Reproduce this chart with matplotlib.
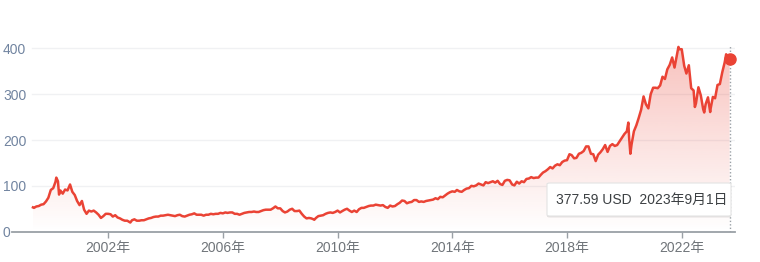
import numpy as np
import pandas as pd
import matplotlib
matplotlib.use("Agg")
import matplotlib.pyplot as plt
from matplotlib.patches import Polygon, FancyBboxPatch

# month-end closes (USD), May 1999 .. Aug 2023
monthly_close = [
    52, 55, 56, 59, 60, 66, 74, 91,                           # 1999 (May-Dec)
    95, 109, 110, 90, 83, 92, 90, 103, 87, 80, 67, 58,        # 2000
    67, 48, 39, 46, 44, 46, 42, 37, 30, 34, 39, 39,           # 2001
    38, 33, 36, 31, 29, 26, 24, 24, 21, 25, 27, 24,           # 2002
    24, 25, 25, 27, 29, 30, 32, 33, 33, 35, 35, 36,           # 2003
    37, 36, 35, 34, 36, 37, 34, 33, 35, 37, 38, 40,           # 2004
    37, 37, 37, 35, 37, 37, 39, 38, 39, 39, 41, 40,           # 2005
    42, 41, 42, 42, 39, 39, 37, 39, 41, 42, 43, 43,           # 2006
    44, 43, 43, 45, 47, 48, 48, 48, 51, 55, 51, 51,           # 2007
    45, 42, 44, 48, 50, 45, 45, 46, 39, 33, 29, 30,           # 2008
    29, 27, 30, 34, 35, 36, 39, 41, 42, 41, 43, 46,           # 2009
    42, 45, 48, 50, 46, 43, 46, 43, 49, 52, 52, 54,           # 2010
    56, 57, 57, 59, 58, 57, 58, 54, 52, 57, 55, 56,           # 2011
    60, 63, 68, 67, 62, 64, 65, 69, 69, 65, 66, 65,           # 2012
    67, 68, 69, 70, 73, 71, 76, 75, 79, 83, 86, 88,           # 2013
    87, 91, 88, 87, 91, 94, 95, 100, 99, 101, 105, 103,       # 2014
    101, 108, 106, 108, 110, 107, 111, 104, 102, 111, 113, 112,  # 2015
    103, 101, 109, 105, 110, 108, 115, 116, 119, 117, 118, 118,  # 2016
    124, 129, 132, 136, 141, 138, 144, 147, 145, 152, 155, 156,  # 2017
    169, 167, 160, 161, 170, 172, 176, 186, 186, 170, 169, 154,  # 2018
    168, 173, 180, 189, 174, 187, 191, 187, 189, 197, 205, 213,  # 2019
    219, 205, 190, 219, 232, 248, 266, 295, 278, 269, 300, 314,  # 2020
    314, 313, 319, 338, 333, 354, 364, 380, 358, 386, 398, 398,  # 2021
    362, 345, 363, 313, 308, 280, 315, 297, 267, 278, 293, 266,  # 2022
    294, 291, 320, 322, 348, 369, 384, 377,                   # 2023 (Jan-Aug)
]
monthly_start = "1999-05-31"

# a few intra-month highs / lows
extra_dates = ["1999-05-18", "2000-03-10", "2000-04-14", "2000-09-01",
               "2002-10-09", "2009-03-09", "2020-02-19", "2020-03-16",
               "2021-11-19", "2022-06-16", "2022-10-13", "2022-12-28",
               "2023-07-19", "2023-09-01"]
extra_prices = [53, 118, 81, 103, 20, 26, 238, 170, 403, 272, 260, 261,
                387, 377.59]

y_ticks = [0, 100, 200, 300, 400]
x_ticks = [2002, 2006, 2010, 2014, 2018, 2022]
x_tick_labels = [f"{y}年" for y in x_ticks]
tooltip_text = "377.59 USD  2023年9月1日"

RED = "#ea4335"
AXIS_GRAY = "#9aa0a6"

plt.rcParams["font.family"] = ["Liberation Sans", "Noto Sans CJK JP"]

# build the series
m_dates = pd.date_range(monthly_start, periods=len(monthly_close), freq="ME")
df = pd.concat([
    pd.DataFrame({"date": m_dates, "price": monthly_close}),
    pd.DataFrame({"date": pd.to_datetime(extra_dates), "price": extra_prices}),
]).sort_values("date").reset_index(drop=True)
df["x"] = df["date"].dt.year + (df["date"].dt.dayofyear - 0.5) / 365.25
x = df["x"].to_numpy()
y = df["price"].to_numpy(dtype=float)

fig = plt.figure(figsize=(7.6, 2.62), dpi=100)
W, H = 760, 262
ax = fig.add_axes([12 / W, (H - 231.7) / H, 723 / W, (231.7 - 45) / H])

x0, x1 = 2002 - 96.2 / 28.68, 2002 + 626.8 / 28.68
y_top = 186.7 / 0.4585
ax.set_xlim(x0, x1)
ax.set_ylim(0, y_top)

# light gridlines (start a bit right of the axis start)
for t in y_ticks[1:]:
    ax.axhline(t, xmin=20 / 723, xmax=1, color="#f0f1f3", lw=1, zorder=0)

# gradient fill under the line
grad = np.zeros((256, 1, 4))
rgb = matplotlib.colors.to_rgb(RED)
grad[..., 0], grad[..., 1], grad[..., 2] = rgb
grad[:, 0, 3] = np.linspace(0, 0.32 * y_top / 400, 256)
im = ax.imshow(grad, extent=[x0, x1, 0, y_top], origin="lower",
               aspect="auto", zorder=1, interpolation="bilinear")
verts = np.column_stack([np.r_[x[0], x, x[-1]], np.r_[0, y, 0]])
clip = Polygon(verts, closed=True, fc="none", ec="none")
ax.add_patch(clip)
im.set_clip_path(clip)

ax.plot(x, y, color=RED, lw=1.8, zorder=3, clip_on=False)
ax.plot(x[-1], y[-1], "o", color=RED, ms=8, zorder=4, clip_on=False)
ax.axvline(x[-1], color=AXIS_GRAY, lw=1, linestyle=(0, (1, 1.5)), zorder=2)

# axes styling
for s in ["top", "left", "right"]:
    ax.spines[s].set_visible(False)
ax.spines["bottom"].set_color(AXIS_GRAY)
ax.spines["bottom"].set_linewidth(1.3)

ax.set_xticks(x_ticks)
ax.set_xticklabels(x_tick_labels, fontsize=10, color="#70757a")
ax.tick_params(axis="x", length=4.5, width=1, color=AXIS_GRAY, pad=2)

ax.set_yticks(y_ticks)
ax.set_yticklabels([str(v) for v in y_ticks], fontsize=10, color="#7184a0")
ax.tick_params(axis="y", length=0, pad=6.5)
for lbl in ax.get_yticklabels():
    lbl.set_horizontalalignment("left")

# tooltip box
bx, by, bw, bh = 547 / W, (H - 216) / H, 184 / W, 33 / H
shadow = FancyBboxPatch((bx, by - 1.5 / H), bw, bh, boxstyle="round,pad=0,rounding_size=0.004",
                        transform=fig.transFigure, fc=(0, 0, 0, 0.10), ec="none", zorder=5)
box = FancyBboxPatch((bx, by), bw, bh, boxstyle="round,pad=0,rounding_size=0.004",
                     transform=fig.transFigure, fc="white", ec="#e3e3e3", lw=0.8, zorder=6)
fig.patches.extend([shadow, box])
fig.text(556 / W, by + bh / 2, tooltip_text, fontsize=10, color="#3c4043",
         va="center", ha="left", zorder=7)

fig.savefig("out.png", dpi=100)
